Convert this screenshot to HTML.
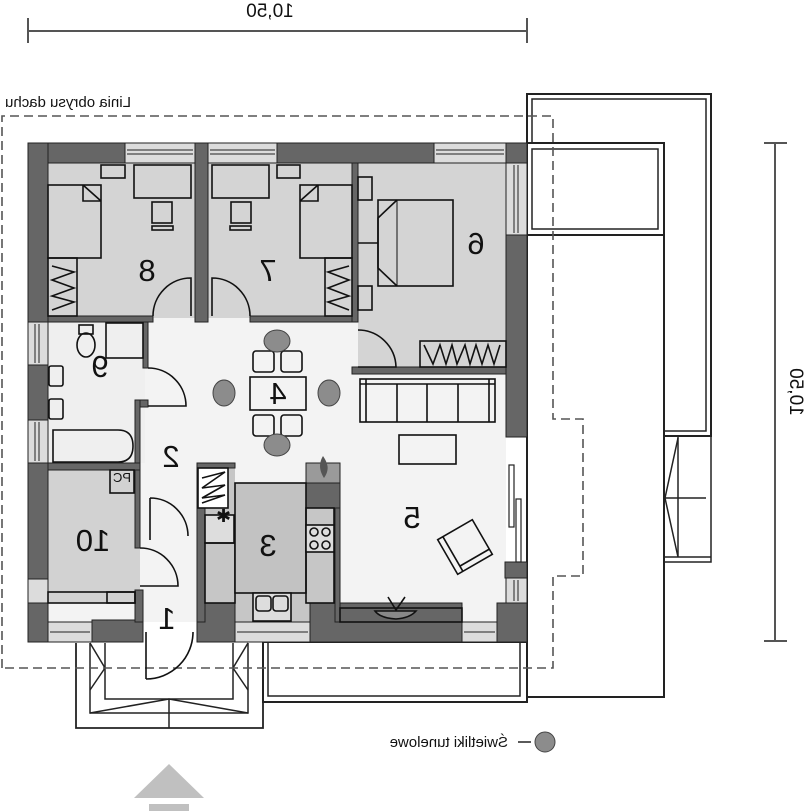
<!DOCTYPE html>
<html><head><meta charset="utf-8"><style>
html,body{margin:0;padding:0;background:#fff;}
svg{display:block;}
text{font-family:"Liberation Sans",sans-serif;fill:#111;}
</style></head><body>
<svg width="805" height="811" viewBox="0 0 805 811" xmlns="http://www.w3.org/2000/svg">
<!-- dims -->
<g stroke="#555" stroke-width="2" fill="none">
<line x1="28" y1="31" x2="527" y2="31"/><line x1="28" y1="18" x2="28" y2="43"/><line x1="527" y1="18" x2="527" y2="43"/>
<line x1="775" y1="143" x2="775" y2="641"/><line x1="764" y1="143" x2="787" y2="143"/><line x1="764" y1="641" x2="787" y2="641"/>
</g>
<text transform="translate(270,17) scale(-1,1)" text-anchor="middle" font-size="19">10,50</text>
<text transform="translate(790,392) rotate(90) scale(-1,1)" text-anchor="middle" font-size="19">10,50</text>
<text transform="translate(68,107) scale(-1,1)" text-anchor="middle" font-size="15">Linia obrysu dachu</text>

<!-- terrace / pergola right -->
<g fill="none" stroke="#222" stroke-width="2">
<rect x="527" y="94" width="184" height="342"/>
<rect x="532" y="99" width="174" height="332" stroke-width="1.5"/>
<rect x="527" y="143" width="137" height="554" fill="#fff"/>
<rect x="532" y="149" width="126" height="80" stroke-width="1.5"/>
<line x1="527" y1="235" x2="664" y2="235"/>
<rect x="664" y="436" width="47" height="126" stroke-width="1.5"/>
<line x1="678" y1="436" x2="678" y2="557" stroke-width="1.5"/>
<line x1="664" y1="498" x2="706" y2="498" stroke-width="1.5"/>
<polyline points="678,438 665,498 678,557" stroke-width="1.5"/>
<line x1="664" y1="557" x2="711" y2="557" stroke-width="1.5"/>
<rect x="263" y="642" width="264" height="60"/>
<polyline points="268,642 268,696 520,696 520,642" stroke-width="1.5"/>
<polyline points="76,643 76,728 263,728 263,643" stroke-width="1.8"/>
<polyline points="90,643 90,713 248,713 248,643" stroke-width="1.5"/>
<polyline points="105,643 105,699 233,699 233,643" stroke-width="1.5"/>
<line x1="169" y1="699" x2="169" y2="728" stroke-width="1.5"/>
<polyline points="90,713 169,699 248,713" stroke-width="1.5"/>
<polyline points="90,643 105,668 90,690" stroke-width="1.5"/>
<polyline points="248,643 233,668 248,690" stroke-width="1.5"/>
</g>
<path d="M2,668 L2,116 L553,116 L553,419 L583,419 L583,576 L553,576 L553,668 Z" fill="none" stroke="#555" stroke-width="1.6" stroke-dasharray="9,5"/>

<!-- floors -->
<rect x="48" y="163" width="458" height="459" fill="#f3f3f3"/>
<rect x="48" y="163" width="148" height="155" fill="#d4d4d4"/>
<rect x="208" y="163" width="145" height="155" fill="#d4d4d4"/>
<rect x="358" y="163" width="148" height="205" fill="#d4d4d4"/>
<rect x="48" y="322" width="97" height="141" fill="#efefef"/>
<rect x="48" y="470" width="92" height="133" fill="#d2d2d2"/>
<rect x="205" y="468" width="130" height="154" fill="#c6c6c6"/>
<rect x="235" y="468" width="71" height="15" fill="#f3f3f3"/>

<!-- walls -->
<g fill="#666" stroke="#222" stroke-width="1">
<rect x="28" y="143" width="97" height="20"/>
<rect x="195" y="143" width="13" height="179"/>
<rect x="277" y="143" width="157" height="20"/>
<rect x="506" y="143" width="21" height="20"/>
<rect x="28" y="143" width="20" height="179"/>
<rect x="28" y="365" width="20" height="55"/>
<rect x="28" y="463" width="20" height="116"/>
<rect x="28" y="603" width="20" height="39"/>
<rect x="92" y="620" width="51" height="22"/>
<rect x="197" y="603" width="38" height="39"/>
<rect x="310" y="603" width="152" height="39"/>
<rect x="497" y="603" width="30" height="39"/>
<rect x="506" y="235" width="21" height="202"/>
<rect x="505" y="562" width="22" height="16"/>
<rect x="48" y="316" width="105" height="6"/>
<rect x="250" y="316" width="108" height="6"/>
<rect x="352" y="163" width="6" height="159"/>
<rect x="352" y="367" width="154" height="7"/>
<rect x="143" y="322" width="5" height="46"/>
<rect x="135" y="400" width="13" height="7"/>
<rect x="135" y="400" width="5" height="148"/>
<rect x="135" y="590" width="8" height="32"/>
<rect x="48" y="463" width="92" height="7"/>
<rect x="197" y="463" width="8" height="159"/>
<rect x="197" y="463" width="38" height="5"/>
<rect x="335" y="463" width="5" height="159"/>
<rect x="306" y="483" width="34" height="25"/>
</g>
<rect x="306" y="463" width="34" height="20" fill="#9a9a9a" stroke="#222"/>
<path d="M323,456 C318,464 320,472 324,478 C328,472 330,466 323,456Z" fill="#555"/>
<g fill="#dcdcdc" stroke="#222" stroke-width="1">
<rect x="125" y="143" width="70" height="20"/><rect x="208" y="143" width="69" height="20"/><rect x="434" y="143" width="72" height="20"/>
<rect x="48" y="622" width="44" height="20"/><rect x="235" y="622" width="75" height="20"/><rect x="462" y="622" width="35" height="20"/>
<rect x="28" y="322" width="20" height="43"/><rect x="28" y="420" width="20" height="43"/><rect x="28" y="579" width="20" height="24"/>
<rect x="506" y="163" width="21" height="72"/><rect x="506" y="578" width="21" height="25"/>
</g>
<g stroke="#222" stroke-width="1">
<line x1="127" y1="150" x2="193" y2="150"/><line x1="127" y1="154" x2="193" y2="154"/>
<line x1="210" y1="150" x2="275" y2="150"/><line x1="210" y1="154" x2="275" y2="154"/>
<line x1="436" y1="150" x2="504" y2="150"/><line x1="436" y1="154" x2="504" y2="154"/>
<line x1="50" y1="632" x2="90" y2="632"/><line x1="237" y1="632" x2="308" y2="632"/><line x1="464" y1="632" x2="495" y2="632"/>
<line x1="35" y1="324" x2="35" y2="363"/><line x1="39" y1="324" x2="39" y2="363"/>
<line x1="35" y1="422" x2="35" y2="461"/><line x1="39" y1="422" x2="39" y2="461"/>
<line x1="514" y1="165" x2="514" y2="233"/><line x1="518" y1="165" x2="518" y2="233"/>
<line x1="514" y1="580" x2="514" y2="601"/><line x1="518" y1="580" x2="518" y2="601"/>
</g>
<g fill="#fff" stroke="#222" stroke-width="1.2">
<rect x="509" y="465" width="5" height="62"/><rect x="516" y="499" width="5" height="63"/>
</g>

<g fill="none" stroke="#111" stroke-width="1.6">
<rect x="48" y="185" width="53" height="73"/>
<polyline points="83,185 83,201 101,201"/><line x1="83" y1="185" x2="101" y2="201"/>
<rect x="101" y="165" width="24" height="13"/>
<rect x="134" y="165" width="57" height="33"/>
<rect x="152" y="202" width="20" height="21"/><rect x="152" y="226" width="21" height="4"/>
<rect x="48" y="258" width="29" height="58"/><polyline points="52,266 74,272 52,280 74,288 52,296 74,302 52,310"/>
<rect x="300" y="185" width="52" height="73"/>
<polyline points="318,185 318,201 300,201"/><line x1="318" y1="185" x2="300" y2="201"/>
<rect x="277" y="165" width="23" height="13"/>
<rect x="212" y="165" width="57" height="33"/>
<rect x="231" y="202" width="20" height="21"/><rect x="230" y="226" width="21" height="4"/>
<rect x="325" y="258" width="27" height="58"/><polyline points="349,266 328,272 349,280 328,288 349,296 328,302 349,310"/>
<rect x="378" y="200" width="75" height="86"/>
<polyline points="397,200 378,218 378,268 397,286"/><line x1="397" y1="200" x2="397" y2="286" stroke-width="1"/>
<rect x="358" y="177" width="14" height="23"/><rect x="358" y="286" width="14" height="24"/>
<line x1="358" y1="243" x2="378" y2="243"/>
<rect x="420" y="341" width="86" height="26"/><polyline points="424,345 433,364 440,345 446,364 452,345 457,364 465,345 470,364 476,345 482,364 488,345 494,364 500,345"/>
<rect x="106" y="323" width="37" height="35"/>
<rect x="79" y="325" width="14" height="9"/><ellipse cx="86" cy="345" rx="9" ry="12"/>
<rect x="49" y="366" width="14" height="20" rx="2"/><rect x="49" y="399" width="14" height="20" rx="2"/>
<path d="M53,430 L118,430 Q133,430 133,446 Q133,462 118,462 L53,462 Z"/>
<rect x="110" y="470" width="24" height="23"/>
<rect x="48" y="592" width="87" height="11" fill="#d2d2d2"/><rect x="107" y="592" width="28" height="11"/>
<rect x="198" y="468" width="30" height="40" fill="#fff"/><polyline points="202,478 225,472 202,488 225,485 202,498 225,495 202,503"/>
<rect x="205" y="515" width="29" height="28" fill="#ddd"/>
<rect x="205" y="543" width="30" height="60"/>
<rect x="235" y="483" width="71" height="110" fill="#c2c2c2"/>
<rect x="306" y="508" width="28" height="95"/>
<rect x="306" y="525" width="28" height="27" fill="#ddd"/>
<circle cx="314" cy="532" r="4"/><circle cx="326" cy="532" r="4"/><circle cx="314" cy="545" r="4"/><circle cx="326" cy="545" r="4"/>
<rect x="253" y="593" width="38" height="28" fill="#ddd"/><rect x="256" y="596" width="15" height="15" rx="3"/><rect x="273" y="596" width="15" height="15" rx="3"/>
<rect x="250" y="377" width="56" height="33"/>
<rect x="253" y="351" width="21" height="21" rx="3"/><rect x="281" y="351" width="21" height="21" rx="3"/>
<rect x="253" y="415" width="21" height="21" rx="3"/><rect x="281" y="415" width="21" height="21" rx="3"/>
<rect x="360" y="379" width="135" height="43"/><line x1="366" y1="379" x2="366" y2="422"/><line x1="489" y1="379" x2="489" y2="422"/>
<line x1="360" y1="384" x2="495" y2="384"/>
<line x1="397" y1="384" x2="397" y2="422"/><line x1="427" y1="384" x2="427" y2="422"/><line x1="458" y1="384" x2="458" y2="422"/>
<rect x="399" y="435" width="57" height="29"/>
<g transform="translate(465,547) rotate(-30)"><rect x="-20" y="-20" width="40" height="40"/><line x1="-14" y1="-20" x2="-14" y2="20"/><line x1="-14" y1="14" x2="20" y2="14"/></g>
<rect x="340" y="608" width="122" height="14"/>
<path d="M375,611 L416,611 Q410,618 396,619 Q380,618 375,611Z" fill="#888"/><polyline points="388,597 396,610 405,597"/>
<path d="M153,316 A38,38 0 0 1 191,278 L191,316"/>
<path d="M250,316 A38,38 0 0 0 212,278 L212,316"/>
<path d="M358,330 A38,38 0 0 1 396,367 L358,367"/>
<path d="M148,368 A38,38 0 0 1 186,406 L148,406"/>
<path d="M150,498 A38,38 0 0 1 188,536 M150,498 L150,540"/>
<path d="M140,548 A38,38 0 0 1 178,586 L140,586"/>
<path d="M146,679 A47,47 0 0 0 193,632"/><line x1="146" y1="632" x2="146" y2="679"/>
</g>
<g fill="#8c8c8c" stroke="#444" stroke-width="1">
<ellipse cx="277" cy="341" rx="13" ry="11"/><ellipse cx="224" cy="393" rx="11" ry="13"/><ellipse cx="329" cy="393" rx="11" ry="13"/><ellipse cx="277" cy="445" rx="13" ry="11"/>
<circle cx="545" cy="742" r="10"/>
</g>
<g font-size="31" text-anchor="middle">
<text transform="translate(147,281) scale(-1,1)">8</text>
<text transform="translate(268,281) scale(-1,1)">7</text>
<text transform="translate(476,254) scale(-1,1)">6</text>
<text transform="translate(100,377) scale(-1,1)">9</text>
<text transform="translate(278,404) scale(-1,1)">4</text>
<text transform="translate(171,467) scale(-1,1)">2</text>
<text transform="translate(93,551) scale(-1,1)">10</text>
<text transform="translate(268,556) scale(-1,1)">3</text>
<text transform="translate(412,528) scale(-1,1)">5</text>
<text transform="translate(167,629) scale(-1,1)">1</text>
</g>
<text transform="translate(122,482) scale(-1,1)" text-anchor="middle" font-size="13">PC</text>
<text x="216" y="522" font-size="18" fill="#222">✱</text>
<text transform="translate(508,747) scale(-1,1)" font-size="15">Świetliki tunelowe</text>
<line x1="518" y1="742" x2="531" y2="742" stroke="#222" stroke-width="1.5"/>
<polygon points="169,764 134,798 204,798" fill="#c0c0c0"/>
<rect x="149" y="804" width="40" height="7" fill="#c0c0c0"/>
</svg>
</body></html>
